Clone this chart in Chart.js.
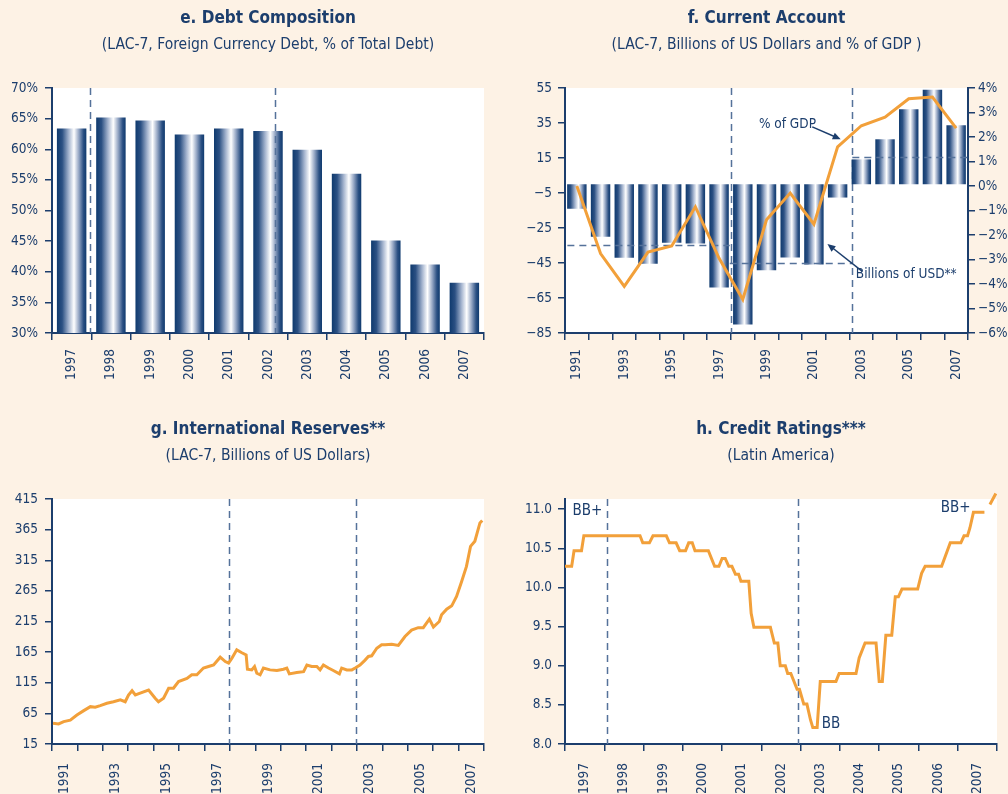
<!DOCTYPE html>
<html>
<head>
<meta charset="utf-8">
<title>LAC-7 external indicators</title>
<script src="https://cdn.jsdelivr.net/npm/chart.js@4.4.1/dist/chart.umd.min.js"></script>
<style>
  body { margin: 0; background: #fdf2e5; width: 1008px; height: 794px; overflow: hidden; position: relative; }
  .panel { position: absolute; width: 504px; }
  .top { top: 0; height: 411px; }
  .bottom { top: 411px; height: 383px; }
  .left { left: 0; }
  .right { left: 504px; }
</style>
</head>
<body>
<div class="panel top left"><canvas id="debtChart"></canvas></div>
<div class="panel top right"><canvas id="accountChart"></canvas></div>
<div class="panel bottom left"><canvas id="reservesChart"></canvas></div>
<div class="panel bottom right"><canvas id="ratingsChart"></canvas></div>
<script>
// e. Debt Composition
const debtYears = ['1997', '1998', '1999', '2000', '2001', '2002', '2003', '2004', '2005', '2006', '2007'];
const debtShare = [63.4, 65.2, 64.7, 62.4, 63.4, 63.0, 59.9, 56.0, 45.1, 41.2, 38.2];
const debtCrisis = [0.48, 5.18];

// f. Current Account
const caYears = ['1991', '1992', '1993', '1994', '1995', '1996', '1997', '1998', '1999',
                 '2000', '2001', '2002', '2003', '2004', '2005', '2006', '2007'];
const caBillions = [-14, -30, -42, -45.4, -33.4, -33.9, -59, -80.2, -49.2, -41.8, -45.8, -7.6, 14.2, 25.7, 42.9, 54, 33.7];
const caPctGdp = [0.0, -2.76, -4.1, -2.7, -2.45, -0.85, -2.95, -4.63, -1.38, -0.29, -1.56, 1.6, 2.46, 2.81, 3.56, 3.63, 2.36];
const caAvgFrom = [-0.4, 6.45, 11.62];
const caAvgTo = [6.45, 11.62, 16.5];
const caAvgValue = [-35, -45.2, 15.4];
const caCrisis = [6.5, 11.62];

// g. International Reserves
const resLabelYears = ['1991', '1993', '1995', '1997', '1999', '2001', '2003', '2005', '2007'];
const resDates = [1991.04, 1991.26, 1991.46, 1991.72, 1991.98, 1992.25, 1992.51, 1992.70, 1992.90, 1993.16,
  1993.42, 1993.69, 1993.88, 1994.01, 1994.15, 1994.28, 1994.47, 1994.80, 1995.06, 1995.19,
  1995.39, 1995.59, 1995.78, 1995.98, 1996.31, 1996.50, 1996.70, 1996.96, 1997.16, 1997.36,
  1997.62, 1997.82, 1997.95, 1998.08, 1998.27, 1998.47, 1998.64, 1998.69, 1998.86, 1998.97,
  1999.06, 1999.19, 1999.32, 1999.58, 1999.85, 2000.11, 2000.24, 2000.34, 2000.63, 2000.90,
  2001.03, 2001.22, 2001.42, 2001.55, 2001.68, 2001.88, 2002.07, 2002.31, 2002.40, 2002.60,
  2002.80, 2002.93, 2003.12, 2003.32, 2003.45, 2003.58, 2003.78, 2003.97, 2004.11, 2004.37,
  2004.63, 2004.89, 2005.15, 2005.41, 2005.61, 2005.85, 2006.01, 2006.24, 2006.33, 2006.53,
  2006.73, 2006.92, 2007.12, 2007.31, 2007.47, 2007.64, 2007.84, 2007.93];
const resValues = [48.8, 47.7, 51.5, 54, 62.4, 69.5, 76, 75, 77.7, 81.5,
  84, 87, 84, 95, 102, 95, 98, 103, 89.7, 84,
  89.7, 106, 106, 117, 122, 128, 128, 139, 141.5, 144,
  156.7, 149.6, 147, 155, 168.7, 164, 160.5, 137, 136, 141.5,
  130.5, 128, 139, 136, 135, 137, 139, 129.5, 131.6, 133,
  144, 141.5, 141.5, 136, 144, 139, 135, 129.5, 139, 136,
  136, 139, 144, 152, 158, 159, 171.4, 177, 177, 178,
  176, 190.5, 201, 205, 205, 219, 206, 215, 226, 235,
  240.6, 256, 280.4, 305, 337.6, 346, 376, 380];
const resCrisis = [1997.96, 2002.97];

// h. Credit Ratings
const ratingLabelYears = ['1997', '1998', '1999', '2000', '2001', '2002', '2003', '2004', '2005', '2006', '2007'];
const ratingDates = [1997.0, 1997.17, 1997.23, 1997.42, 1997.48, 1998.91, 1998.98, 1999.15, 1999.24, 1999.58,
  1999.66, 1999.83, 1999.92, 2000.07, 2000.15, 2000.24, 2000.31, 2000.65, 2000.81, 2000.92,
  2001.0, 2001.08, 2001.17, 2001.25, 2001.34, 2001.42, 2001.48, 2001.68, 2001.74, 2001.81,
  2002.23, 2002.33, 2002.42, 2002.48, 2002.61, 2002.67, 2002.75, 2002.91, 2002.97, 2003.08,
  2003.16, 2003.25, 2003.31, 2003.42, 2003.5, 2003.9, 2003.98, 2004.41, 2004.49, 2004.64,
  2004.92, 2005.0, 2005.08, 2005.17, 2005.32, 2005.41, 2005.49, 2005.58, 2005.98, 2006.08,
  2006.17, 2006.59, 2006.81, 2007.08, 2007.16, 2007.25, 2007.31, 2007.4, 2007.68, 2007.75,
  2007.82, 2007.97];
const ratingValues = [10.27, 10.27, 10.47, 10.47, 10.66, 10.66, 10.57, 10.57, 10.66, 10.66,
  10.57, 10.57, 10.47, 10.47, 10.57, 10.57, 10.47, 10.47, 10.27, 10.27,
  10.37, 10.37, 10.27, 10.27, 10.17, 10.17, 10.08, 10.08, 9.67, 9.49,
  9.49, 9.29, 9.29, 9.0, 9.0, 8.9, 8.9, 8.7, 8.7, 8.51,
  8.51, 8.31, 8.21, 8.21, 8.8, 8.8, 8.9, 8.9, 9.1, 9.29,
  9.29, 8.8, 8.8, 9.39, 9.39, 9.88, 9.88, 9.98, 9.98, 10.18,
  10.27, 10.27, 10.57, 10.57, 10.66, 10.66, 10.76, 10.96, 10.96, null,
  11.06, 11.2];
const ratingCrisis = [1998.07, 2002.94];

// สีและฟอนต์
const navy = '#1c3e6d';
const orange = '#f2a03a';
const dashBlue = '#55729a';
const fontFamily = '"Liberation Sans Narrow", "DejaVu Sans Condensed", sans-serif';
const shineStops = [[0, '#0f3a6e'], [0.18, '#2b5083'], [0.4, '#a3b3ce'], [0.58, '#ffffff'],
                    [0.74, '#98a9c6'], [0.9, '#2b5083'], [1, '#0f3a6e']];

Chart.defaults.font.family = fontFamily;
Chart.defaults.font.size = 13.5;
Chart.defaults.color = navy;
Chart.defaults.animation = false;
Chart.defaults.plugins.legend.display = false;
Chart.defaults.plugins.tooltip.enabled = false;

const fmtMinus = v => (v < 0 ? '\u2212' + Math.abs(v) : String(v));

function heading(text, sub) {
    return {
        title: { display: true, text: text, fullSize: false, color: navy,
                 font: { size: 17, weight: 'bold' }, padding: { top: 8, bottom: 0 } },
        subtitle: { display: true, text: sub, fullSize: false, color: navy,
                    font: { size: 15.5 }, padding: { top: 7, bottom: 34 } }
    };
}

function tickGrid(extra) {
    return Object.assign({ drawOnChartArea: false, tickLength: 7, color: navy, lineWidth: 1.5 }, extra || {});
}

function axisBorder() {
    return { color: navy, width: 2 };
}

// แถบไล่สีของแท่ง
function shine(c) {
    if (c.type !== 'data') return navy;
    const xs = c.chart.scales.x;
    if (!xs || !c.chart.chartArea) return navy;
    const step = Math.abs(xs.getPixelForValue(1) - xs.getPixelForValue(0));
    const half = step * c.dataset.barPercentage / 2;
    const x = xs.getPixelForValue(c.dataIndex);
    const g = c.chart.ctx.createLinearGradient(x - half, 0, x + half, 0);
    shineStops.forEach(s => g.addColorStop(s[0], s[1]));
    return g;
}

// แกนปีแบบต่อเนื่อง: ขีดที่ต้นปี ป้ายอยู่กลางปี
function yearAxis(min, max, labels) {
    return {
        type: 'linear', min: min, max: max,
        afterBuildTicks: axis => {
            const t = [];
            for (let y = axis.min; y <= axis.max; y++) t.push({ value: y });
            labels.forEach(l => t.push({ value: Number(l) + 0.5 }));
            axis.ticks = t;
        },
        ticks: { autoSkip: false, minRotation: 90, maxRotation: 90, padding: 12,
                 callback: v => (v % 1 ? String(v - 0.5) : '') },
        grid: tickGrid({ tickColor: c => (c.tick && c.tick.value % 1 === 0 ? navy : 'rgba(0,0,0,0)') }),
        border: axisBorder(),
        afterFit: s => { s.height = 50; }
    };
}

const plotBackground = {
    id: 'plotBackground',
    beforeDraw(chart) {
        const a = chart.chartArea;
        chart.ctx.save();
        chart.ctx.fillStyle = '#ffffff';
        chart.ctx.fillRect(a.left, a.top, a.right - a.left, a.bottom - a.top);
        chart.ctx.restore();
    }
};

function drawCrisis(chart, opts) {
    const ctx = chart.ctx, a = chart.chartArea, xs = chart.scales.x;
    ctx.save();
    ctx.strokeStyle = dashBlue;
    ctx.lineWidth = 1.5;
    ctx.setLineDash([7, 5]);
    (opts.at || []).forEach(v => {
        const x = Math.round(xs.getPixelForValue(v)) + 0.5;
        ctx.beginPath();
        ctx.moveTo(x, a.top);
        ctx.lineTo(x, a.bottom);
        ctx.stroke();
    });
    ctx.restore();
}

const crisisLines = {
    id: 'crisisLines',
    beforeDatasetsDraw(chart, args, opts) { if (!opts.onTop) drawCrisis(chart, opts); },
    afterDatasetsDraw(chart, args, opts) { if (opts.onTop) drawCrisis(chart, opts); }
};

// เส้นค่าเฉลี่ยช่วงเวลา (กราฟ f) วาดทับแท่งแต่อยู่ใต้เส้นสีส้ม
const avgLines = {
    id: 'avgLines',
    afterDatasetDraw(chart, args) {
        if (args.meta.type !== 'bar') return;
        const ctx = chart.ctx, xs = chart.scales.x, ys = chart.scales.y;
        ctx.save();
        ctx.strokeStyle = dashBlue;
        ctx.lineWidth = 1.5;
        ctx.setLineDash([7, 5]);
        caAvgValue.forEach((v, i) => {
            const y = Math.round(ys.getPixelForValue(v)) + 0.5;
            ctx.beginPath();
            ctx.moveTo(xs.getPixelForValue(caAvgFrom[i]), y);
            ctx.lineTo(xs.getPixelForValue(caAvgTo[i]), y);
            ctx.stroke();
        });
        ctx.restore();
    }
};

function drawArrow(ctx, x1, y1, x2, y2) {
    const ang = Math.atan2(y2 - y1, x2 - x1);
    ctx.beginPath();
    ctx.moveTo(x1, y1);
    ctx.lineTo(x2 - 5 * Math.cos(ang), y2 - 5 * Math.sin(ang));
    ctx.stroke();
    ctx.beginPath();
    ctx.moveTo(x2, y2);
    ctx.lineTo(x2 - 8 * Math.cos(ang) + 3.5 * Math.sin(ang), y2 - 8 * Math.sin(ang) - 3.5 * Math.cos(ang));
    ctx.lineTo(x2 - 8 * Math.cos(ang) - 3.5 * Math.sin(ang), y2 - 8 * Math.sin(ang) + 3.5 * Math.cos(ang));
    ctx.closePath();
    ctx.fill();
}

// ป้ายข้อความในกราฟ
const notes = {
    id: 'notes',
    afterDatasetsDraw(chart, args, opts) {
        const ctx = chart.ctx, xs = chart.scales.x, ys = chart.scales.y;
        ctx.save();
        ctx.fillStyle = navy;
        ctx.strokeStyle = navy;
        ctx.lineWidth = 1.5;
        ctx.font = (opts.size || 14) + 'px ' + fontFamily;
        ctx.textBaseline = 'middle';
        ctx.textAlign = 'left';
        (opts.items || []).forEach(n => {
            ctx.fillText(n.text, xs.getPixelForValue(n.at[0]), ys.getPixelForValue(n.at[1]));
            if (n.arrow) {
                drawArrow(ctx,
                    xs.getPixelForValue(n.arrow[0][0]), ys.getPixelForValue(n.arrow[0][1]),
                    xs.getPixelForValue(n.arrow[1][0]), ys.getPixelForValue(n.arrow[1][1]));
            }
        });
        ctx.restore();
    }
};

// e. Debt Composition
new Chart(document.getElementById('debtChart'), {
    type: 'bar',
    data: {
        labels: debtYears,
        datasets: [{ data: debtShare, backgroundColor: shine, borderWidth: 0,
                     barPercentage: 0.75, categoryPercentage: 1 }]
    },
    options: {
        responsive: true, maintainAspectRatio: false,
        layout: { padding: { right: 20 } },
        plugins: Object.assign(heading('e. Debt Composition', '(LAC-7, Foreign Currency Debt, % of Total Debt)'), {
            crisisLines: { at: debtCrisis, onTop: true }
        }),
        scales: {
            x: { type: 'category', offset: true, grid: tickGrid({ offset: true }), border: axisBorder(),
                 ticks: { autoSkip: false, minRotation: 90, maxRotation: 90, padding: 9 },
                 afterFit: s => { s.height = 78; } },
            y: { min: 30, max: 70, grid: tickGrid(), border: axisBorder(),
                 ticks: { stepSize: 5, padding: 7, callback: v => v + '%' },
                 afterFit: s => { s.width = 52; } }
        }
    },
    plugins: [plotBackground, crisisLines]
});

// f. Current Account
new Chart(document.getElementById('accountChart'), {
    type: 'bar',
    data: {
        labels: caYears,
        datasets: [
            { type: 'line', data: caPctGdp, yAxisID: 'y1', borderColor: orange, borderWidth: 3,
              pointRadius: 0, tension: 0, order: 0 },
            { data: caBillions, yAxisID: 'y', backgroundColor: shine, borderWidth: 0,
              barPercentage: 0.82, categoryPercentage: 1, order: 1 }
        ]
    },
    options: {
        responsive: true, maintainAspectRatio: false,
        plugins: Object.assign(heading('f. Current Account', '(LAC-7, Billions of US Dollars and % of GDP )'), {
            crisisLines: { at: caCrisis, onTop: false },
            notes: {
                size: 13.5,
                items: [
                    { text: '% of GDP', at: [7.68, 34.3], arrow: [[9.93, 32.8], [11.13, 25.7]] },
                    { text: 'Billions of USD**', at: [11.77, -51.7], arrow: [[12.04, -49.8], [10.57, -34.1]] }
                ]
            }
        }),
        scales: {
            x: { type: 'category', offset: true, grid: tickGrid({ offset: true }), border: axisBorder(),
                 ticks: { autoSkip: false, minRotation: 90, maxRotation: 90, padding: 9,
                          callback: (v, i) => (i % 2 === 0 ? caYears[i] : '') },
                 afterFit: s => { s.height = 78; } },
            y: { min: -85, max: 55, grid: tickGrid(), border: axisBorder(),
                 ticks: { stepSize: 20, padding: 6, callback: fmtMinus },
                 afterFit: s => { s.width = 61; } },
            y1: { position: 'right', min: -6, max: 4, grid: tickGrid(), border: axisBorder(),
                  ticks: { stepSize: 1, padding: 3, callback: v => fmtMinus(v) + '%' },
                  afterFit: s => { s.width = 40; } }
        }
    },
    plugins: [plotBackground, avgLines, crisisLines, notes]
});

// g. International Reserves
new Chart(document.getElementById('reservesChart'), {
    type: 'line',
    data: {
        datasets: [{ data: resDates.map((d, i) => ({ x: d, y: resValues[i] })), borderColor: orange,
                     borderWidth: 3, pointRadius: 0, tension: 0 }]
    },
    options: {
        responsive: true, maintainAspectRatio: false,
        layout: { padding: { right: 20 } },
        plugins: Object.assign(heading('g. International Reserves**', '(LAC-7, Billions of US Dollars)'), {
            crisisLines: { at: resCrisis, onTop: false }
        }),
        scales: {
            x: yearAxis(1991, 2008, resLabelYears),
            y: { min: 15, max: 415, grid: tickGrid(), border: axisBorder(),
                 ticks: { stepSize: 50, padding: 7 },
                 afterFit: s => { s.width = 52; } }
        }
    },
    plugins: [plotBackground, crisisLines]
});

// h. Credit Ratings
new Chart(document.getElementById('ratingsChart'), {
    type: 'line',
    data: {
        datasets: [{ data: ratingDates.map((d, i) => ({ x: d, y: ratingValues[i] })), borderColor: orange,
                     borderWidth: 3, pointRadius: 0, tension: 0, spanGaps: false, clip: false }]
    },
    options: {
        responsive: true, maintainAspectRatio: false,
        layout: { padding: { right: 11 } },
        plugins: Object.assign(heading('h. Credit Ratings***', '(Latin America)'), {
            crisisLines: { at: ratingCrisis, onTop: false },
            notes: {
                size: 15,
                items: [
                    { text: 'BB+', at: [1997.19, 10.98] },
                    { text: 'BB', at: [2003.54, 8.26] },
                    { text: 'BB+', at: [2006.57, 11.01] }
                ]
            }
        }),
        scales: {
            x: yearAxis(1997, 2008, ratingLabelYears),
            y: { min: 8, max: 11.13, grid: tickGrid(), border: axisBorder(),
                 ticks: { stepSize: 0.5, includeBounds: false, padding: 6, callback: v => v.toFixed(1) },
                 afterFit: s => { s.width = 61; } }
        }
    },
    plugins: [plotBackground, crisisLines, notes]
});
</script>
</body>
</html>
